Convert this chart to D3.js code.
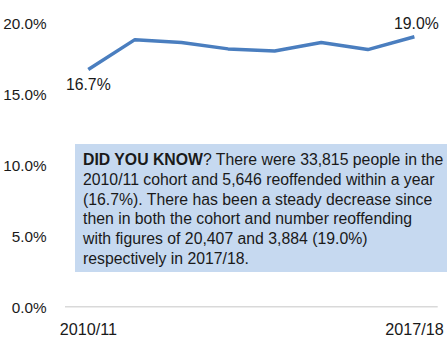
<!DOCTYPE html>
<html>
<head>
<meta charset="utf-8">
<script src="https://cdn.jsdelivr.net/npm/d3@7"></script>
<style>
  html, body { margin: 0; padding: 0; background: #fff; }
  svg { display: block; font-family: "Liberation Sans", Arial, sans-serif; }
</style>
</head>
<body>
<div id="chart"></div>
<script>
const years = ['2010/11', '2011/12', '2012/13', '2013/14', '2014/15', '2015/16', '2016/17', '2017/18'];
const rates = [16.7, 18.8, 18.6, 18.15, 18.0, 18.6, 18.1, 19.0];
const yTicks = [0, 5, 10, 15, 20];
const shownYears = ['2010/11', '2017/18'];
const labelledYears = ['2010/11', '2017/18'];
const noteLines = [
  [{t: 'DID YOU KNOW', b: true}, {t: '? There were 33,815 people in the'}],
  [{t: '2010/11 cohort and 5,646 reoffended within a year'}],
  [{t: '(16.7%). There has been a steady decrease since'}],
  [{t: 'then in both the cohort and number reoffending'}],
  [{t: 'with figures of 20,407 and 3,884 (19.0%)'}],
  [{t: 'respectively in 2017/18.'}],
];

const width = 447, height = 339;
const svg = d3.select('#chart').append('svg')
  .attr('width', width)
  .attr('height', height);

const x = d3.scaleBand().domain(years).range([65, 437.7]);
const y = d3.scaleLinear().domain([0, 20]).range([306.7, 22.6]);
const cx = d => x(d) + x.bandwidth() / 2;

// baseline
svg.append('line')
  .attr('x1', 65).attr('x2', 437.7)
  .attr('y1', y(0)).attr('y2', y(0))
  .attr('stroke', '#d9d9d9')
  .attr('stroke-width', 1.5);

// y axis labels
const yAxis = svg.append('g')
  .attr('transform', 'translate(46.5,0)')
  .call(d3.axisLeft(y).tickValues(yTicks).tickFormat(d => d.toFixed(1) + '%').tickSize(0).tickPadding(0));
yAxis.select('.domain').remove();
yAxis.selectAll('text')
  .style('font-size', '15.3px')
  .attr('fill', '#1a1a1a')
  .attr('dy', '0.38em');

// x axis labels
const xAxis = svg.append('g')
  .attr('transform', `translate(0,${y(0)})`)
  .call(d3.axisBottom(x).tickValues(shownYears).tickSize(0).tickPadding(0));
xAxis.select('.domain').remove();
xAxis.selectAll('text')
  .style('font-size', '16.2px')
  .attr('fill', '#1a1a1a')
  .attr('dy', 0)
  .attr('y', 28.5);

// line
svg.append('path')
  .datum(years.map((d, i) => [d, rates[i]]))
  .attr('fill', 'none')
  .attr('stroke', '#4a7ebf')
  .attr('stroke-width', 3.5)
  .attr('stroke-linejoin', 'round')
  .attr('d', d3.line().x(d => cx(d[0])).y(d => y(d[1])));

// data labels
labelledYears.forEach((yr, k) => {
  const v = rates[years.indexOf(yr)];
  svg.append('text')
    .attr('x', cx(yr) + (k === 0 ? 0 : 2))
    .attr('y', y(v) + (k === 0 ? 21 : -8))
    .attr('text-anchor', 'middle')
    .style('font-size', '15.8px')
    .attr('fill', '#1a1a1a')
    .text(v.toFixed(1) + '%');
});

// note box
svg.append('rect')
  .attr('x', 75).attr('y', 144)
  .attr('width', 372).attr('height', 128)
  .attr('fill', '#c6d9f0');

const note = svg.append('g');
noteLines.forEach((parts, i) => {
  const t = note.append('text')
    .attr('x', 83)
    .attr('y', 165 + i * 19.8)
    .attr('font-size', 15)
    .attr('fill', '#1a1a1a');
  parts.forEach(p => t.append('tspan').attr('font-weight', p.b ? 'bold' : null).text(p.t));
});
// fit note font so the longest line spans the box like the reference
const w2 = note.selectAll('text').nodes()[1].getComputedTextLength();
const fs = 15 * 352 / w2;
note.selectAll('text').attr('font-size', fs);
</script>
</body>
</html>
